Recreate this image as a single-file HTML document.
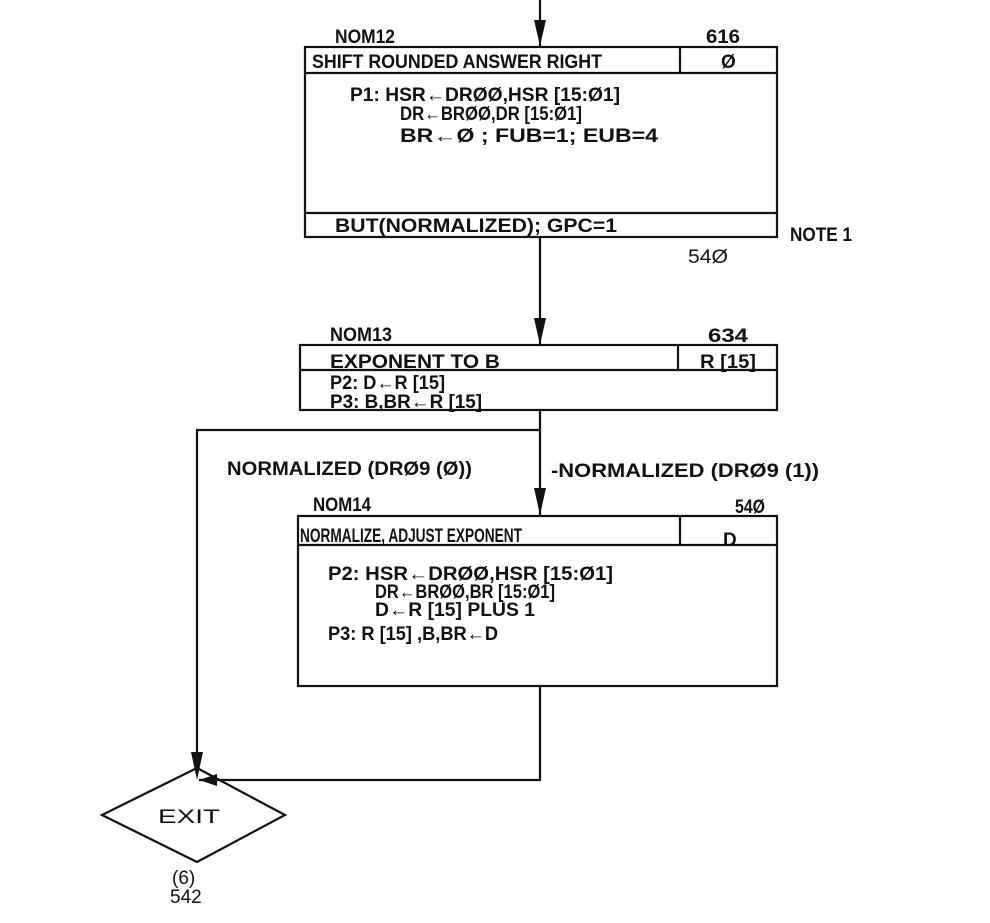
<!DOCTYPE html>
<html><head><meta charset="utf-8"><style>
html,body{margin:0;padding:0;background:#fff;}
svg{display:block;}
text{font-family:"Liberation Sans Narrow","Liberation Sans",sans-serif;font-weight:bold;fill:#111;}
.t{font-size:19px;}
.n{font-weight:normal;}
</style></head><body>
<svg width="990" height="923" viewBox="0 0 990 923" xmlns="http://www.w3.org/2000/svg">
<g stroke="#111" stroke-width="2.2" fill="none">
<line x1="540" y1="0" x2="540" y2="46"/>
<rect x="305" y="47" width="472" height="190"/>
<line x1="305" y1="73" x2="777" y2="73"/>
<line x1="680" y1="47" x2="680" y2="73"/>
<line x1="305" y1="213" x2="777" y2="213"/>
<line x1="540" y1="237" x2="540" y2="345"/>
<rect x="300" y="345" width="477" height="65"/>
<line x1="300" y1="370" x2="777" y2="370"/>
<line x1="678" y1="345" x2="678" y2="370"/>
<line x1="540" y1="410" x2="540" y2="515"/>
<polyline points="540,430 197,430 197,770"/>
<rect x="298" y="516" width="479" height="170"/>
<line x1="298" y1="545" x2="777" y2="545"/>
<line x1="680" y1="516" x2="680" y2="545"/>
<polyline points="540,686 540,780 199,780"/>
<polygon points="197,768 285,815 197,862 102,815"/>
</g>
<g fill="#111">
<polygon points="534,20 546,20 540,46"/>
<polygon points="534,318 546,318 540,345"/>
<polygon points="534,488 546,488 540,515"/>
<polygon points="191,752 203,752 197,780"/>
<polygon points="217,774 217,786 199,780"/>
</g>
<text class="t" x="335" y="43" textLength="60" lengthAdjust="spacingAndGlyphs">NOM12</text>
<text class="t" x="706" y="43" textLength="34" lengthAdjust="spacingAndGlyphs">616</text>
<text class="t" x="312" y="68" textLength="290" lengthAdjust="spacingAndGlyphs">SHIFT ROUNDED ANSWER RIGHT</text>
<text class="t" x="721" y="68">Ø</text>
<text class="t" x="350" y="101" textLength="270" lengthAdjust="spacingAndGlyphs">P1:  HSR←DRØØ,HSR [15:Ø1]</text>
<text class="t" x="400" y="120" textLength="182" lengthAdjust="spacingAndGlyphs">DR←BRØØ,DR [15:Ø1]</text>
<text class="t" x="400" y="142" textLength="258" lengthAdjust="spacingAndGlyphs">BR←Ø ; FUB=1; EUB=4</text>
<text class="t" x="335" y="232" textLength="282" lengthAdjust="spacingAndGlyphs">BUT(NORMALIZED); GPC=1</text>
<text class="t" x="790" y="241" textLength="62" lengthAdjust="spacingAndGlyphs">NOTE 1</text>
<text class="t n" x="688" y="263" textLength="40" lengthAdjust="spacingAndGlyphs">54Ø</text>
<text class="t" x="330" y="341" textLength="62" lengthAdjust="spacingAndGlyphs">NOM13</text>
<text class="t" x="708" y="342" textLength="40" lengthAdjust="spacingAndGlyphs">634</text>
<text class="t" x="330" y="368" textLength="170" lengthAdjust="spacingAndGlyphs">EXPONENT TO B</text>
<text class="t" x="700" y="368" textLength="56" lengthAdjust="spacingAndGlyphs">R [15]</text>
<text class="t" x="330" y="389" textLength="115" lengthAdjust="spacingAndGlyphs">P2:  D←R [15]</text>
<text class="t" x="330" y="408" textLength="152" lengthAdjust="spacingAndGlyphs">P3:  B,BR←R [15]</text>
<text class="t" x="227" y="475" textLength="245" lengthAdjust="spacingAndGlyphs">NORMALIZED (DRØ9 (Ø))</text>
<text class="t" x="551" y="477" textLength="268" lengthAdjust="spacingAndGlyphs">-NORMALIZED (DRØ9 (1))</text>
<text class="t" x="313" y="511" textLength="58" lengthAdjust="spacingAndGlyphs">NOM14</text>
<text class="t" x="735" y="513" textLength="30" lengthAdjust="spacingAndGlyphs">54Ø</text>
<text class="t" x="300" y="542" textLength="222" lengthAdjust="spacingAndGlyphs">NORMALIZE, ADJUST EXPONENT</text>
<text class="t" x="723" y="546">D</text>
<text class="t" x="328" y="580" textLength="285" lengthAdjust="spacingAndGlyphs">P2:  HSR←DRØØ,HSR [15:Ø1]</text>
<text class="t" x="375" y="598" textLength="180" lengthAdjust="spacingAndGlyphs">DR←BRØØ,BR [15:Ø1]</text>
<text class="t" x="375" y="616" textLength="160" lengthAdjust="spacingAndGlyphs">D←R [15]  PLUS 1</text>
<text class="t" x="328" y="640" textLength="170" lengthAdjust="spacingAndGlyphs">P3:  R [15] ,B,BR←D</text>
<text class="t n" x="158" y="823" font-size="20" textLength="62" lengthAdjust="spacingAndGlyphs">EXIT</text>
<text class="t n" x="172" y="884" font-size="18">(6)</text>
<text class="t n" x="170" y="903" font-size="16">542</text>
</svg>
</body></html>
